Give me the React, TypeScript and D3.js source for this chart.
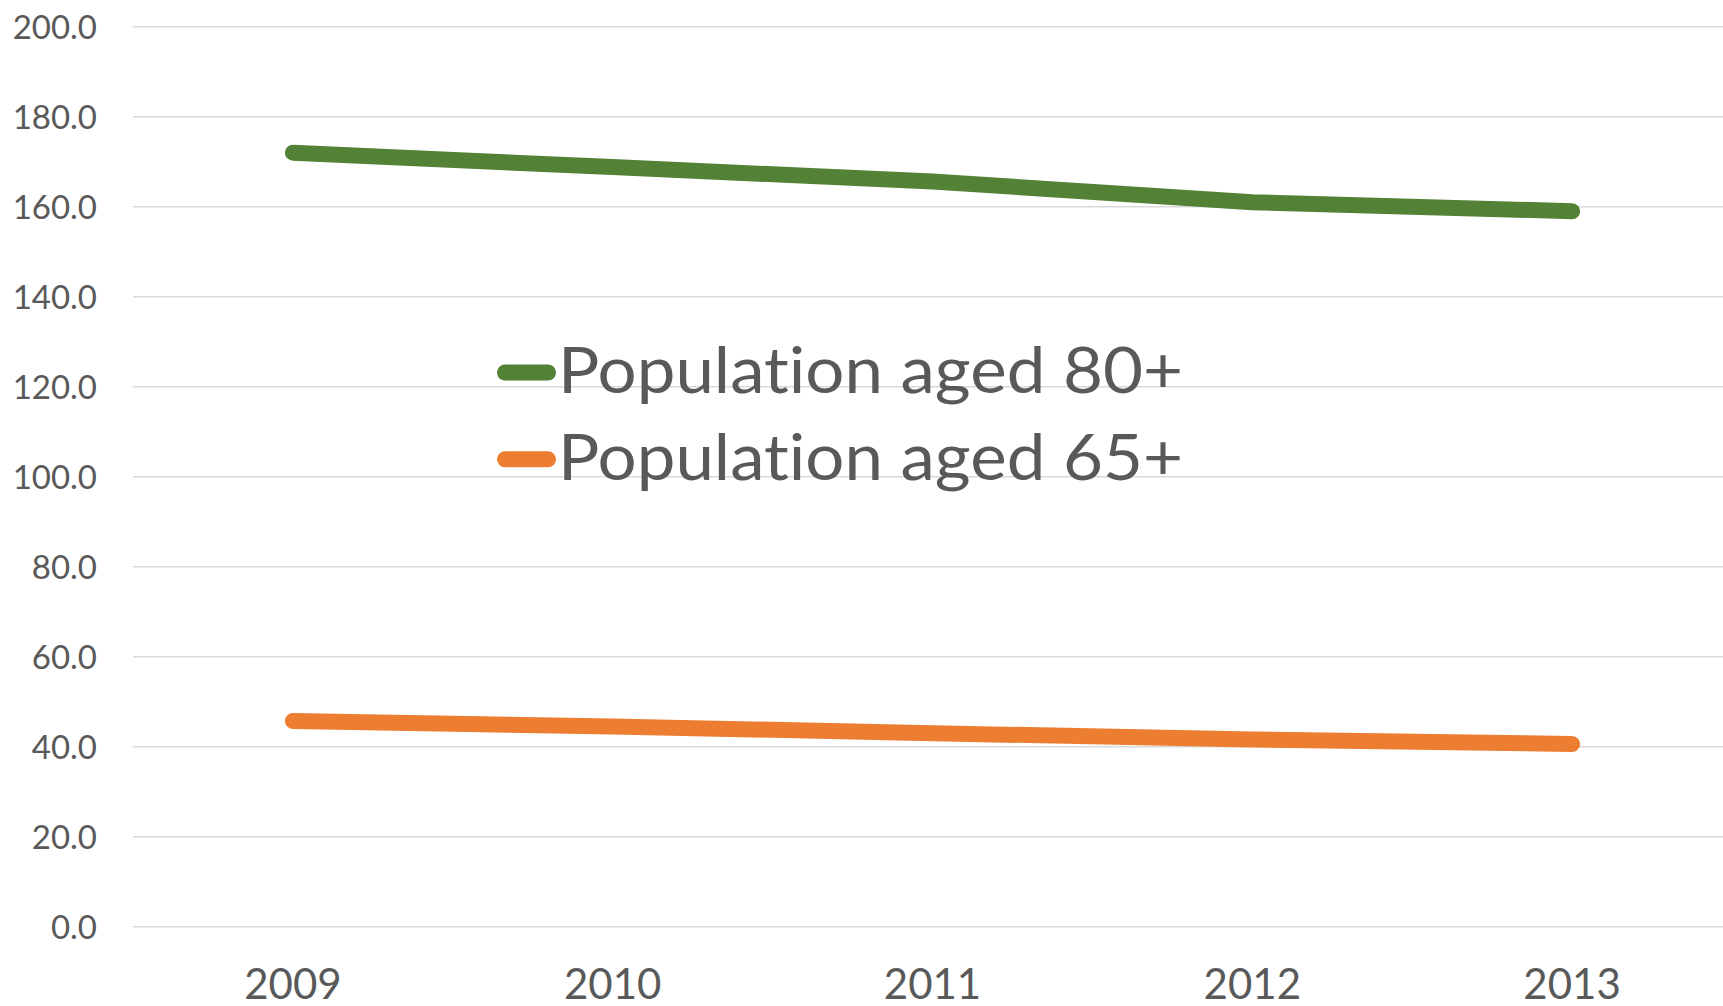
import React from "react";
import * as d3 from "d3";

const years = ["2009", "2010", "2011", "2012", "2013"];
const aged80 = [172.0, 168.8, 165.6, 161.0, 159.0];
const aged65 = [45.7, 44.5, 43.0, 41.6, 40.6];
const yTicks = [0, 20, 40, 60, 80, 100, 120, 140, 160, 180, 200];
const seriesNames = ["Population aged 80+", "Population aged 65+"];
const seriesColors = ["#538135", "#ED7D31"];

const W = 1723;
const H = 1006;

export default function App() {
  const x = d3.scaleBand<string>().domain(years).range([133, 1732]);
  const y = d3.scaleLinear().domain([0, 200]).range([926.7, 26.7]);
  const cx = (d: string) => (x(d) as number) + x.bandwidth() / 2;
  const line = d3
    .line<number>()
    .x((_, i) => cx(years[i]))
    .y((v) => y(v));
  const series = [aged80, aged65];
  const font = "Lato, 'Noto Sans', sans-serif";
  const gray = "#595959";
  const noLig = { fontVariantLigatures: "none" as const };

  return (
    <svg
      width={W}
      height={H}
      style={{ position: "absolute", left: 0, top: 0, background: "#fff" }}
    >
      {yTicks.map((t) => (
        <g key={t}>
          <line x1={133} x2={W} y1={y(t)} y2={y(t)} stroke="#D9D9D9" strokeWidth={1.5} />
          <text
            x={97}
            y={y(t) + 12}
            textAnchor="end"
            fontFamily={font}
            fontSize={33}
            fill={gray}
          >
            {t.toFixed(1)}
          </text>
        </g>
      ))}
      {years.map((yr) => (
        <text
          key={yr}
          x={cx(yr)}
          y={999}
          textAnchor="middle"
          fontFamily={font}
          fontSize={42}
          fill={gray}
        >
          {yr}
        </text>
      ))}
      {series.map((s, i) => (
        <path
          key={i}
          d={line(s) as string}
          fill="none"
          stroke={seriesColors[i]}
          strokeWidth={16}
          strokeLinecap="round"
          strokeLinejoin="round"
        />
      ))}
      {seriesNames.map((n, i) => {
        const ly = [372.5, 459.3][i];
        const by = [393.3, 480.1][i];
        return (
          <g key={n}>
            <line
              x1={505}
              x2={548}
              y1={ly}
              y2={ly}
              stroke={seriesColors[i]}
              strokeWidth={16}
              strokeLinecap="round"
            />
            <text
              x={558}
              y={by}
              fontFamily={font}
              fontSize={64}
              fill={gray}
              style={noLig}
              textLength={625}
              lengthAdjust="spacingAndGlyphs"
            >
              {n}
            </text>
          </g>
        );
      })}
    </svg>
  );
}
